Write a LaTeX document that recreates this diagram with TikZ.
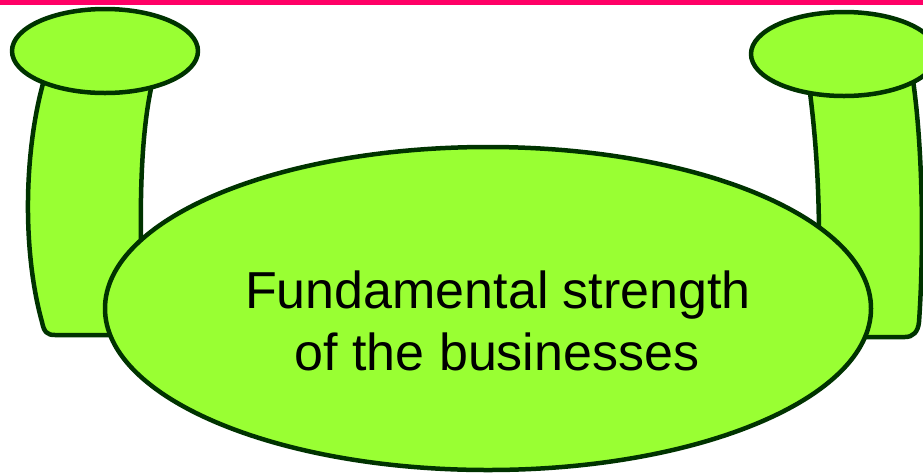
\documentclass[tikz,border=0pt]{standalone}
\usepackage{fontspec}
\setmainfont{Liberation Sans}
\usetikzlibrary{shapes.geometric}
\definecolor{limefill}{HTML}{99FF33}
\definecolor{darkline}{HTML}{003300}
\definecolor{topbar}{HTML}{FF0066}
\begin{document}
\begin{tikzpicture}[x=1pt,y=-1pt,
  part/.style={fill=limefill, draw=darkline, line width=4.5pt, line join=round},
  label/.style={anchor=base, inner sep=0pt, text=black, font=\fontsize{52}{62}\selectfont}]
\useasboundingbox (0,0) rectangle (923,475);
\fill[white] (0,0) rectangle (923,475);
\fill[topbar] (0,0) rectangle (923,5);
% left pillar
\draw[part] (44,80) .. controls (24,150) and (22,250) .. (42,322)
  .. controls (44,332) and (47,335) .. (55,335) -- (150,335) -- (141,240)
  .. controls (140,180) and (143,120) .. (153,80) -- cycle;
\node[part, ellipse, minimum width=186pt, minimum height=84pt, inner sep=0pt] (lefttop) at (105,51) {};
% right pillar
\draw[part] (809,85) .. controls (815,130) and (819,180) .. (819,240) -- (825,337) -- (905,337)
  .. controls (913,337) and (918,332) .. (919,322)
  .. controls (924,250) and (923,150) .. (913,80) -- cycle;
\node[part, ellipse, minimum width=186pt, minimum height=84pt, inner sep=0pt] (righttop) at (844,54) {};
% core ellipse
\node[part, ellipse, minimum width=766pt, minimum height=323pt, inner sep=0pt] (core) at (488,308.5) {};
\node[label] (line1) at (498,308) {Fundamental strength};
\node[label] (line2) at (497,370) {of the businesses};
\end{tikzpicture}
\end{document}
